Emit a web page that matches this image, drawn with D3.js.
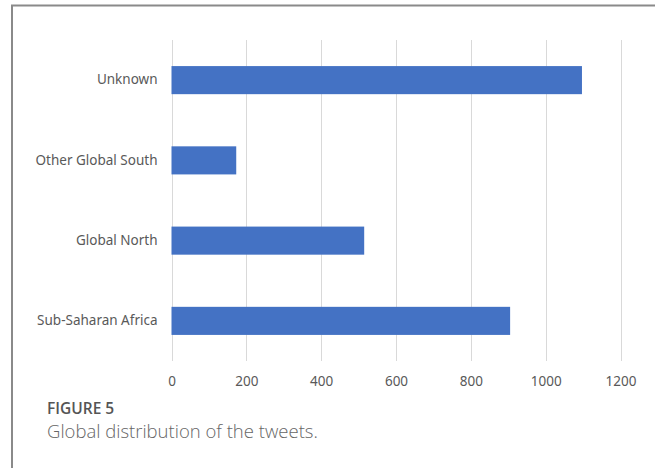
<!DOCTYPE html>
<html>
<head>
<meta charset="utf-8">
<script src="https://cdn.jsdelivr.net/npm/d3@7"></script>
<style>
  body { margin: 0; background: #fff; }
  svg { display: block; }
</style>
</head>
<body>
<svg id="chart"></svg>
<script>
// values
const categories = ['Unknown', 'Other Global South', 'Global North', 'Sub-Saharan Africa'];
const tweets = [1097, 173, 515, 905];
const xTicks = [0, 200, 400, 600, 800, 1000, 1200];

const width = 655, height = 468;
const margin = { top: 40, left: 171.5, right: 34.5, bottom: 107 };

let svg = d3.select('#chart')
  .attr('width', width)
  .attr('height', height);

// frame round the figure (runs off the right and bottom)
svg.append('path')
  .attr('d', `M12,${height + 5} V5.5 H${width + 5}`)
  .attr('fill', 'none')
  .attr('stroke', '#8a8a8a')
  .attr('stroke-width', 2);

let x = d3.scaleLinear()
  .domain([0, 1200])
  .range([margin.left, width - margin.right]);

let y = d3.scaleBand()
  .domain(categories)
  .range([margin.top, height - margin.bottom])
  .paddingInner(0.65)
  .paddingOuter(0.325);

// vertical gridlines
svg.append('g')
  .selectAll('line')
  .data(xTicks)
  .enter().append('line')
  .attr('x1', d => Math.round(x(d)) + 0.5)
  .attr('x2', d => Math.round(x(d)) + 0.5)
  .attr('y1', margin.top)
  .attr('y2', height - margin.bottom)
  .attr('stroke', '#d9d9d9')
  .attr('stroke-width', 1);

// bars
svg.append('g')
  .selectAll('rect')
  .data(categories)
  .enter().append('rect')
  .attr('x', x(0))
  .attr('y', d => y(d))
  .attr('width', (d, i) => x(tweets[i]) - x(0))
  .attr('height', y.bandwidth())
  .attr('fill', '#4472c4');

// category labels
let yAxis = d3.axisLeft(y).tickSize(0).tickPadding(14);
let yg = svg.append('g')
  .attr('transform', `translate(${x(0)},0)`)
  .call(yAxis);
yg.select('.domain').remove();
yg.selectAll('text')
  .attr('font-family', '"Noto Sans", sans-serif')
  .attr('font-size', 13.5)
  .attr('fill', '#595959');

// value axis labels
let xAxis = d3.axisBottom(x).tickValues(xTicks).tickFormat(d3.format('d'))
  .tickSize(0).tickPadding(15);
let xg = svg.append('g')
  .attr('transform', `translate(0,${height - margin.bottom})`)
  .call(xAxis);
xg.select('.domain').remove();
xg.selectAll('text')
  .attr('font-family', '"Noto Sans", sans-serif')
  .attr('font-size', 13.5)
  .attr('fill', '#595959');

// caption
svg.append('text')
  .attr('x', 47)
  .attr('y', 414)
  .attr('font-family', '"Open Sans", sans-serif')
  .attr('font-size', 15.5)
  .attr('font-weight', 600)
  .attr('fill', '#555')
  .text('FIGURE 5');

svg.append('text')
  .attr('x', 47)
  .attr('y', 438)
  .attr('font-family', '"Open Sans", sans-serif')
  .attr('font-size', 18.5)
  .attr('font-weight', 300)
  .attr('fill', '#666')
  .text('Global distribution of the tweets.');
</script>
</body>
</html>
